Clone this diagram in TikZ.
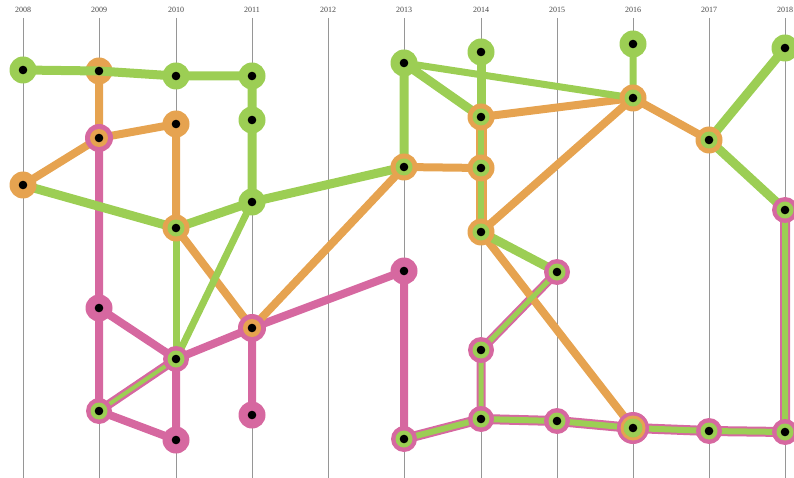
\documentclass[tikz,border=0pt]{standalone}
\usepackage{fontspec}
\setmainfont{Liberation Serif}
\definecolor{gr}{RGB}{156,206,84}
\definecolor{orc}{RGB}{230,163,80}
\definecolor{pk}{RGB}{214,104,160}
\definecolor{gl}{RGB}{150,150,150}
\definecolor{lbl}{RGB}{70,70,70}
\tikzset{
  base/.style={circle, inner sep=0pt, minimum size=27pt},
  G/.style={base, fill=gr},
  O/.style={base, fill=orc},
  P/.style={base, fill=pk},
  OG/.style={base, fill=orc, path picture={\fill[gr] (path picture bounding box.center) circle (8.5pt);}},
  PG/.style={base, minimum size=26pt, fill=pk, path picture={\fill[gr] (path picture bounding box.center) circle (8.5pt);}},
  PO/.style={base, minimum size=28pt, fill=pk, path picture={\fill[orc] (path picture bounding box.center) circle (9pt);}},
  POG/.style={base, minimum size=32pt, fill=pk, path picture={\fill[orc] (path picture bounding box.center) circle (12.5pt);\fill[gr] (path picture bounding box.center) circle (9.5pt);}},
  yearlbl/.style={font=\fontsize{8}{9}\selectfont, text=lbl, inner sep=0pt},
  grid/.style={draw=gl, line width=0.9pt},
  pe/.style={draw=pk, line width=8pt},
  oe/.style={draw=orc, line width=8pt},
  ge/.style={draw=gr, line width=9pt},
  gthin/.style={draw=gr, line width=7pt},
  pout/.style={draw=pk, line width=10pt},
  gin/.style={draw=gr, line width=6pt},
  oout/.style={draw=orc, line width=11pt},
}
\begin{document}
\begin{tikzpicture}[x=1pt, y=-1pt]
\useasboundingbox (0,0) rectangle (794,478);
% year axes
\foreach \yr/\xx in {2008/23,2009/99,2010/176,2011/252,2012/328,2013/404,2014/481,2015/557,2016/633,2017/709,2018/785}{
  \node[yearlbl] (y\yr) at (\xx,10) {\yr};
  \coordinate (b\yr) at (\xx,478);
  \draw[grid] (\xx,18) -- (b\yr);
}
% node positions
\coordinate (A1) at (23,70);
\coordinate (A2) at (23,185);
\coordinate (B1) at (99,71);
\coordinate (B2) at (99,138);
\coordinate (B3) at (99,308);
\coordinate (B4) at (99,411);
\coordinate (C1) at (176,76);
\coordinate (C2) at (176,124);
\coordinate (C3) at (176,228);
\coordinate (C4) at (176,359);
\coordinate (C5) at (176,440);
\coordinate (D1) at (252,76);
\coordinate (D2) at (252,120);
\coordinate (D3) at (252,202);
\coordinate (D4) at (252,328);
\coordinate (D5) at (252,415);
\coordinate (E1) at (404,63);
\coordinate (E2) at (404,167);
\coordinate (E3) at (404,271);
\coordinate (E4) at (404,439);
\coordinate (F1) at (481,52);
\coordinate (F2) at (481,117);
\coordinate (F3) at (481,168);
\coordinate (F4) at (481,232);
\coordinate (F5) at (481,350);
\coordinate (F6) at (481,419);
\coordinate (G1) at (557,272);
\coordinate (G2) at (557,421);
\coordinate (H1) at (633,44);
\coordinate (H2) at (633,98);
\coordinate (H3) at (633,428);
\coordinate (I1) at (709,140);
\coordinate (I2) at (709,431);
\coordinate (J1) at (785,48);
\coordinate (J2) at (785,210);
\coordinate (J3) at (785,432);
% pink edges
\draw[pe] (B2) -- (B3) -- (B4) -- (C5) -- (C4) -- (B3);
\draw[pe] (C4) -- (D4) -- (D5);
\draw[pe] (D4) -- (E3) -- (E4);
\draw[pk, line width=9pt] (B4) -- (C4);
\draw[pout] (E4) -- (F6) -- (G2) -- (H3) -- (I2) -- (J3) -- (J2);
\draw[pk, line width=9pt] (F6) -- (F5) -- (G1);
% orange edges
\draw[oe] (B1) -- (B2) -- (C2) -- (C3) -- (D4) -- (E2) -- (F3);
\draw[oe] (A2) -- (B2);
\draw[oe] (F2) -- (H2) -- (I1);
\draw[oe] (F4) -- (H2);
\draw[oe] (F4) -- (H3);
\draw[oout] (F2) -- (F3) -- (F4);
% green edges
\draw[ge] (D1) -- (D2) -- (D3) -- (E2);
\draw[ge] (A2) -- (C3) -- (D3);
\draw[gthin] (C3) -- (C4);
\draw[gthin] (D3) -- (C4);
\draw[gr, line width=4pt] (B4) -- (C4);
\draw[ge] (F2) -- (E1) -- (E2);
\draw[gthin] (E1) -- (H2) -- (H1);
\draw[ge] (F1) -- (F2);
\draw[gin] (F2) -- (F3) -- (F4);
\draw[ge] (F4) -- (G1);
\draw[gr, line width=5pt] (F6) -- (F5) -- (G1);
\draw[gin] (E4) -- (F6) -- (G2) -- (H3) -- (I2) -- (J3) -- (J2);
\draw[ge] (J1) -- (I1) -- (J2);
% nodes
\node[G] (nA1) at (A1) {};
\node[O] (nA2) at (A2) {};
\node[O] (nB1) at (B1) {};
\node[PO] (nB2) at (B2) {};
\node[P] (nB3) at (B3) {};
\node[PG] (nB4) at (B4) {};
\node[G] (nC1) at (C1) {};
\node[O] (nC2) at (C2) {};
\node[OG] (nC3) at (C3) {};
\node[PG] (nC4) at (C4) {};
\node[P] (nC5) at (C5) {};
\node[G] (nD1) at (D1) {};
\node[G] (nD2) at (D2) {};
\node[G] (nD3) at (D3) {};
\node[PO] (nD4) at (D4) {};
\node[P] (nD5) at (D5) {};
\node[G] (nE1) at (E1) {};
\node[OG] (nE2) at (E2) {};
\node[P] (nE3) at (E3) {};
\node[PG] (nE4) at (E4) {};
\node[G] (nF1) at (F1) {};
\node[OG] (nF2) at (F2) {};
\node[OG] (nF3) at (F3) {};
\node[OG] (nF4) at (F4) {};
\node[PG] (nF5) at (F5) {};
\node[PG] (nF6) at (F6) {};
\node[PG] (nG1) at (G1) {};
\node[PG] (nG2) at (G2) {};
\node[G] (nH1) at (H1) {};
\node[OG] (nH2) at (H2) {};
\node[POG] (nH3) at (H3) {};
\node[OG] (nI1) at (I1) {};
\node[PG] (nI2) at (I2) {};
\node[G] (nJ1) at (J1) {};
\node[PG] (nJ2) at (J2) {};
\node[PG] (nJ3) at (J3) {};
% top green line drawn over nodes
\draw[ge] (nA1.center) -- (nB1.center) -- (nC1.center) -- (nD1.center);
% centre dots
\foreach \n in {A1,A2,B1,B2,B3,B4,C1,C2,C3,C4,C5,D1,D2,D3,D4,D5,E1,E2,E3,E4,F1,F2,F3,F4,F5,F6,G1,G2,H1,H2,H3,I1,I2,J1,J2,J3}{
  \fill[black] (n\n.center) circle (4.3);
}
\end{tikzpicture}
\end{document}
